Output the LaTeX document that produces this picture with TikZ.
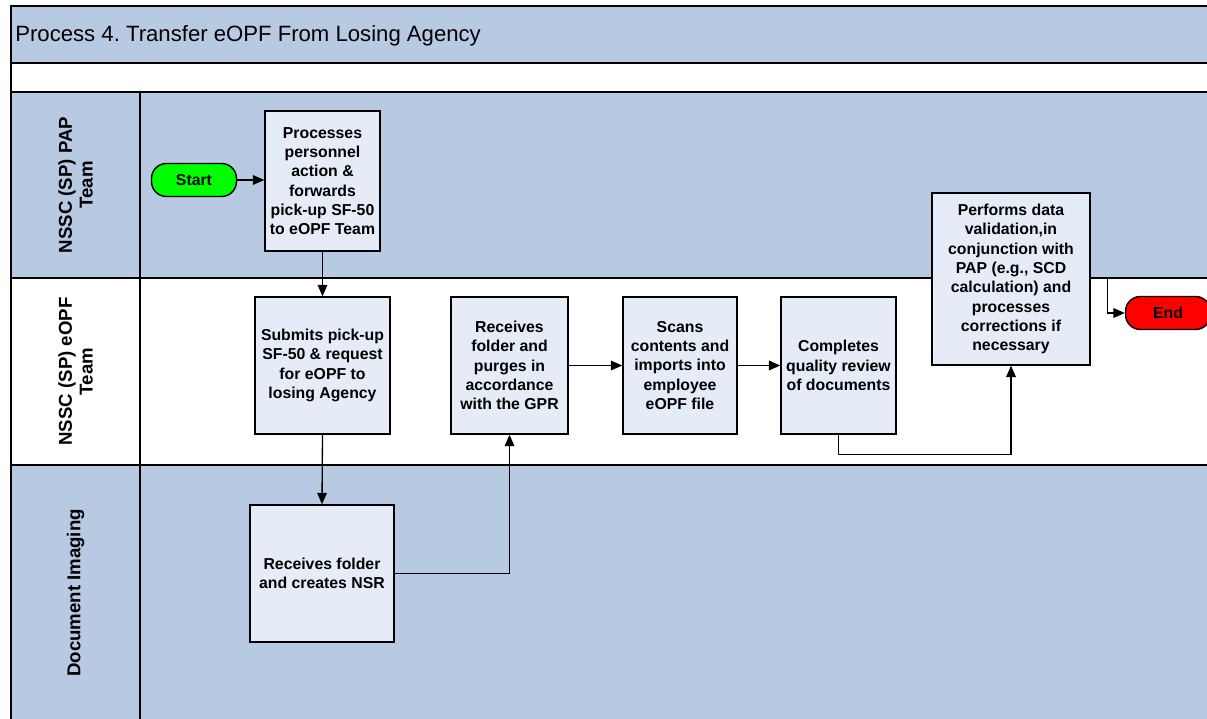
\documentclass[tikz,border=0pt]{standalone}
\usepackage{fontspec}
\setmainfont{Liberation Sans}
\usetikzlibrary{arrows.meta}
\definecolor{lanefill}{RGB}{184,201,226}
\definecolor{boxfill}{RGB}{230,236,247}
\frenchspacing
\begin{document}
\begin{tikzpicture}[x=0.02cm,y=-0.02cm,
  band/.style={draw=black,line width=1pt},
  lanelabel/.style={rotate=90,align=center,font=\fontsize{10.6}{11.8}\selectfont\bfseries},
  stepbox/.style 2 args={draw=black,fill=boxfill,line width=0.8pt,inner sep=0pt,
    minimum width={#1*0.02cm},minimum height={#2*0.02cm},align=center,
    font=\fontsize{9}{11}\selectfont\bfseries},
  terminal/.style={draw=black,line width=0.8pt,rounded corners=8.5pt,inner sep=0pt,
    minimum width={85*0.02cm},minimum height={33*0.02cm},
    font=\fontsize{9}{11}\selectfont\bfseries},
  flow/.style={line width=0.75pt,-{Triangle[length=6.5pt,width=5.5pt]}},
  plain/.style={line width=0.75pt}]
\clip (0,0) rectangle (1207,719);
\fill[white] (0,0) rectangle (1207,719);

% pool header, spacer and swimlanes
\draw[band,fill=lanefill] (11,6) rectangle (1230,63);
\draw[band,fill=white] (11,63) rectangle (1230,92);
\draw[band,fill=lanefill] (11,92) rectangle (1230,278);
\draw[band,fill=white] (11,278) rectangle (1230,465);
\draw[band,fill=lanefill] (11,465) rectangle (1230,740);
\draw[band] (140,92) -- (140,740);

\node[anchor=base west,inner sep=0pt,font=\fontsize{12.6}{14}\selectfont] (title) at (15,42)
  {Process 4. Transfer eOPF From Losing Agency};

\node[lanelabel] (lpap) at (75.5,185) {NSSC (SP) PAP\\Team};
\node[lanelabel] (leopf) at (75.5,371.5) {NSSC (SP) eOPF\\Team};
\node[lanelabel] (limg) at (75.5,593) {Document Imaging};

% process steps
\node[terminal,fill=green] (start) at (194,180) {Start};
\node[stepbox={115}{140}] (b1) at (322.5,181)
  {Processes\\personnel\\action \&\\forwards\\pick-up SF-50\\to eOPF Team};
\node[stepbox={135}{137}] (b2) at (322.5,365.5)
  {Submits pick-up\\SF-50 \& request\\for eOPF to\\losing Agency};
\node[stepbox={117}{137}] (b3) at (509.5,365.5)
  {Receives\\folder and\\purges in\\accordance\\with the GPR};
\node[stepbox={114}{137}] (b4) at (680,365.5)
  {Scans\\contents and\\imports into\\employee\\eOPF file};
\node[stepbox={115}{137}] (b5) at (838.5,365.5)
  {Completes\\quality review\\of documents};
\node[stepbox={158}{172}] (b6) at (1011,279)
  {Performs data\\validation,in\\conjunction with\\PAP (e.g., SCD\\calculation) and\\processes\\corrections if\\necessary};
\node[stepbox={144}{137}] (b7) at (322,573.5)
  {Receives folder\\and creates NSR};
\node[terminal,fill=red] (end) at (1168,313) {End};

% connectors
\draw[flow] (start.east) -- (start.east -| b1.west);
\draw[flow] (b1.south) -- (b2.north);
\draw[flow] (b2.south) -- (b7.north);
\draw[flow] (b7.east) -| (b3.south);
\draw[flow] (b3.east) -- (b4.west);
\draw[flow] (b4.east) -- (b5.west);
\coordinate (b5turn) at ([yshift={-20*0.02cm}]b5.south);
\draw[flow] (b5.south) -- (b5turn) -| (b6.south);
\coordinate (b6turn) at ([xshift={17*0.02cm},yshift={1*0.02cm}]b6.east);
\draw[flow] ([yshift={1*0.02cm}]b6.east) -- (b6turn) |- (end.west);
\end{tikzpicture}
\end{document}
